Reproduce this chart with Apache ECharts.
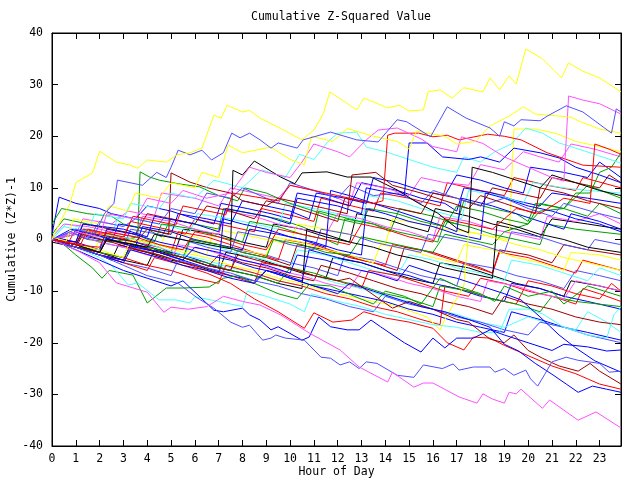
<!DOCTYPE html>
<html>
<head>
<meta charset="utf-8">
<script src="https://cdn.jsdelivr.net/npm/echarts@6/dist/echarts.min.js"></script>
<style>
html,body{margin:0;padding:0;background:#fff;}
#chart{width:640px;height:480px;}
</style>
</head>
<body>
<div id="chart"></div>
<script>
// ---- axis settings ----
const hourMax = 23.9;
const yMin = -40, yMax = 40;

// ---- series values: [hour, cumulative (z*z)-1] ----
const yellowTop = [[0,0],[0.3,3],[0.76,7],[1,11],[1.7,12.9],[2,17.1],[2.7,15],[3.3,14.4],[3.6,13.8],[4,15.4],[4.8,15],[5.25,16.4],[5.8,16.8],[6.3,17.7],[6.8,24.1],[7.1,23.5],[7.35,26],[8,24.7],[8.3,25],[8.74,23.5],[9.6,21.5],[10.5,19.3],[11,21.2],[11.4,24.4],[11.67,28.6],[12.8,25.1],[13.1,27.4],[14.1,25.5],[14.6,26],[15,24.9],[15.6,25.1],[15.8,28.6],[16.3,29],[16.8,27.4],[17.3,29.4],[18.1,28.6],[18.4,31.3],[18.8,29],[19.2,31.7],[19.5,30.1],[19.9,36.9],[20.6,35],[21.4,31.3],[21.7,34.2],[22.3,32.6],[23,31.3],[23.9,28.6]];
const slateTop = [[0,0],[1,2],[1.8,1],[2.2,5],[2.6,7],[2.75,11.5],[3.8,10.5],[4.4,13],[4.8,12],[5,14],[5.3,17.3],[5.8,16.4],[6.3,17.3],[6.7,15.4],[7.2,16.8],[7.55,20.6],[7.9,19.7],[8.3,20.6],[8.74,19.3],[9.2,17.7],[9.5,18.7],[10.3,17.7],[10.55,19.3],[11.7,20.8],[12.8,19.3],[13.7,18.9],[14.5,23.2],[14.9,22.8],[15.9,19.9],[16.6,25.7],[17.4,23.5],[18.4,21.6],[18.8,20],[19,22.8],[19.4,22],[19.7,23.2],[20.5,23],[20.8,23.9],[21.6,25.9],[22.3,24.7],[23.5,20.6],[23.7,25.3],[23.9,24.7]];
const yellow2 = [[0,0.5],[0.6,-0.3],[0.9,4],[2,3],[2.4,6.5],[3.2,5.5],[3.5,9],[4.5,8],[5,11],[6,10],[6.3,13],[7,12],[7.4,18.3],[8,16.8],[9.2,17.9],[10,15.5],[10.6,14.5],[10.9,20],[11.8,19],[12.4,21.5],[13.5,20],[14.5,19],[15,17.5],[15.3,21],[16.5,20],[17,18.5],[17.8,19],[18.4,22],[19.2,23.9],[19.8,25.7],[20.3,24.3],[21.8,23.7],[22.2,22.8],[23,21.4],[23.9,20.6]];
const magentaJump = [[0,0],[1,1.5],[2,0.5],[2.3,5],[3.5,4],[4,8],[5,7],[5.5,9.5],[6.5,8],[7.5,9],[8.3,14],[9,13],[10,12],[10.5,15],[11,18.5],[12,17],[12.5,16],[13.2,19.3],[13.7,21.2],[14.5,21.6],[15.5,19.5],[16,18],[17,17],[17.2,19.9],[18.1,18.6],[19,16],[20,14],[21,12],[21.5,11.3],[21.7,27.8],[22.3,27],[23,26.3],[23.9,24.3]];
const redTop = [[0,0],[1.2,-1],[1.5,2],[3,0.5],[3.4,4.5],[5.2,2.8],[5.5,6.5],[7.3,4.8],[7.6,9],[9.5,7.5],[10,10.5],[12,8.5],[13.5,7],[13.9,7.5],[14.1,20.2],[14.4,20.6],[15.4,20.6],[16,19.9],[16.6,20.2],[17.1,19.3],[18.3,20.4],[19,20],[19.7,19.3],[20.8,16.8],[22.3,14.4],[23.9,14]];
const blackTop = [[0,0],[1,-1],[2,-2.5],[2.3,0],[4,-1.5],[4.3,1],[6,-0.5],[7.5,-1.8],[7.6,13.4],[8,12.5],[8.5,15.2],[9.6,12.1],[10.2,10.8],[10.5,12.9],[11.55,13.1],[12.4,12.1],[13.4,12.1],[14.5,9.6],[15.4,7],[16.2,5.1],[17,2.2],[17.5,1.3],[17.65,14],[18.5,13],[19.5,11.5],[20.5,10],[21,12.5],[22,11],[23,9.5],[23.9,8.5]];
const blueUpper = [[0,0.5],[1,-0.5],[1.3,3],[3,2],[4,0.5],[4.3,4.5],[6,3],[7,1.5],[7.3,6],[9,4.5],[10,3],[10.3,8],[12,6.5],[13,5],[13.2,10],[14.8,8.5],[15,18.7],[15.75,18.7],[16.4,16],[17.5,15.5],[18,16],[18.8,15],[19.4,17.7],[20.5,16.8],[21.3,15.8],[22,14],[23,12.5],[23.9,11]];
const cyanUpper = [[0,0],[0.5,2.5],[1.5,1.5],[1.8,5],[3,4],[3.3,7],[4.5,6],[5,9],[6,8],[6.8,11.5],[8,10],[8.8,13.5],[9.8,12],[10.4,16.5],[11,15.5],[11.6,19],[12,20.6],[12.8,20.8],[13.2,17.9],[14,17],[15,15.5],[16,14],[17,13],[17.3,16],[18,15],[18.6,17],[19.3,18.5],[19.9,21.6],[20.6,20.6],[21.3,18.7],[22,17.7],[23.9,14.8]];
const darkRedUpper = [[0,0],[1,-1],[1.3,1.5],[2.5,0.5],[3.5,-0.5],[4,2],[4.9,1],[5,12.9],[5.8,11.1],[6.55,10],[7.5,9],[8,7.5],[9,6.5],[9.5,8],[10.5,7],[11.5,6],[12.4,5],[12.6,12.5],[13.6,13],[14.3,10.5],[15.5,9],[16.5,7.5],[17.5,6],[18,8.5],[19,7],[20.3,5],[20.5,10],[21.5,9],[22.5,7.5],[23.9,6]];
const slateMid = [[0,0],[0.8,1.5],[1.5,0],[2,3.5],[3,2.5],[3.5,4],[4.5,3],[5,6],[6,5],[6.5,9],[7.5,8],[8,10],[8.5,9],[9.5,7],[10,11],[11,9.5],[12,8],[12.5,10.5],[13.5,8.5],[14.5,9],[15.5,7],[16,9.5],[17,8],[18,6.5],[19,8],[20,6],[21,4.5],[21.5,7],[23,5],[23.9,4]];
const magentaLow = [[0,0],[1,-2],[2,-4.5],[2.7,-8.4],[4,-10.2],[4.7,-14.1],[5,-13.1],[5.7,-13.5],[6.5,-13],[7.2,-11],[8,-12],[8.74,-12.7],[9.6,-14.6],[10.8,-18.1],[12.1,-21.4],[12.9,-24.7],[14.1,-27.6],[14.3,-25.7],[15.2,-28.6],[15.6,-27.8],[16,-27.8],[17.1,-30.5],[17.85,-31.7],[18.1,-29.9],[18.5,-30.9],[19,-31.7],[19.2,-29.6],[19.5,-29.9],[19.7,-29],[20.6,-32.7],[20.9,-31.1],[22.1,-35],[22.85,-33.4],[23.9,-36.5]];
const slateLow = [[0,0],[1,-1.5],[2,-3],[3,-5],[4,-7],[5.3,-8.5],[6.1,-11.3],[6.8,-13.3],[7.5,-16],[8,-17],[8.3,-16.6],[8.85,-19.5],[9.2,-19.1],[9.4,-18.5],[9.8,-19.1],[10.6,-19.5],[11.3,-22.8],[11.7,-23],[12.1,-24.3],[12.5,-23.7],[12.9,-25],[13.2,-23.7],[13.65,-24],[14.5,-26.3],[15.2,-26.7],[15.6,-24.3],[16.4,-25],[16.85,-24.1],[17.1,-25.3],[17.7,-24.7],[18.4,-24.7],[18.6,-25.7],[19,-25],[19.4,-26.3],[19.9,-25.3],[20.1,-27],[20.4,-28.4],[20.7,-26.1],[21,-23.7],[21.6,-22.8],[22.1,-23.4],[23,-24],[23.4,-25.7],[23.9,-25.5]];
const blueLow1 = [[0,0],[1,-2],[2,-4],[3,-6],[4,-7.5],[5,-9],[5.5,-8],[6.8,-13.7],[7.2,-14],[8,-13.3],[8.3,-14.6],[8.74,-15.6],[9.2,-17.5],[9.5,-16.9],[10.5,-19.5],[10.8,-18.9],[11.2,-15],[11.7,-16.9],[12.4,-17.5],[12.9,-17.5],[13.4,-15.6],[13.8,-16.9],[14.8,-20],[15.5,-21.8],[16,-19.1],[16.5,-21],[17,-19.1],[17.7,-19.1],[18.4,-17.5],[19,-18.5],[20,-20],[21,-21.5],[21.5,-20.3],[22.5,-20.8],[23.3,-21.6],[23.9,-21.4]];
const redLow = [[0,0],[1,-1.5],[2,-3],[3,-4.5],[4,-6],[4.3,-3.5],[5.5,-5],[6.5,-6.5],[7.5,-8.5],[8.5,-11.5],[9.5,-14],[10.6,-17.2],[11,-14.2],[11.8,-16],[12.6,-15.6],[13.1,-14],[14,-15.2],[15,-16],[16,-17.2],[16.6,-20],[17.3,-21.4],[17.7,-18.9],[18.4,-19.1],[19,-20.5],[20,-22.5],[21,-24.5],[22,-26],[23,-28],[23.9,-29]];
const darkRedLow = [[0,0],[1,-1.5],[2,-2.5],[2.3,0],[3.5,-1],[4.5,-2.5],[5.5,-3.5],[6.5,-5],[7.5,-6],[7.8,-3],[9,-4.5],[10,-5.5],[11,-7],[12,-8],[12.5,-7.5],[13.4,-10.4],[14.3,-13.3],[15,-12],[16,-13.5],[17,-15.5],[17.5,-16],[18.4,-19.3],[19,-20],[19.4,-18.5],[20,-21.5],[20.6,-23],[21.3,-24.5],[22.1,-25.5],[22.6,-24],[23,-25.5],[23.9,-28]];
const blueLow2 = [[0,0],[1,-1.5],[2,-3],[3,-4.5],[3.3,-2],[4.5,-3.5],[5.5,-5],[6.5,-6],[7.5,-7.5],[8.5,-8.5],[9,-6],[10,-7.5],[11,-9],[12,-10.5],[12.5,-8.5],[13.5,-10],[14.5,-11.5],[15.5,-13],[16.5,-14],[17.5,-15.5],[18.4,-17],[19,-20.3],[19.6,-21.6],[20.3,-24],[21,-26.1],[21.6,-28],[22.1,-29.6],[22.7,-28.4],[23.3,-29],[23.9,-29.6]];
const blueLow3 = [[0,0],[1,-1],[1.3,1.5],[2.5,0],[3.5,-1.5],[4.5,-2.5],[5.5,-4],[6,-1.5],[7,-2.5],[8,-4],[9,-5],[10,-6.5],[10.3,-3],[11.5,-4],[12.5,-5.5],[13.5,-6.5],[14.5,-8],[15,-5],[16,-6.5],[17,-7.5],[18,-9],[19,-10.5],[19.7,-11.7],[20.5,-15],[21.3,-18.5],[22,-21],[22.8,-23.5],[23.9,-25.7]];
const cyanLow = [[0,0],[1,-1.5],[2,-3.5],[2.5,-5],[3.2,-8.8],[3.6,-8.4],[4.5,-11.7],[5.2,-11.7],[5.8,-12.3],[6,-11.1],[7,-12],[8,-13],[8.2,-10],[9,-11],[10,-12.5],[10.6,-14],[10.9,-10.5],[12,-12],[13,-13],[14,-14.5],[15,-15.5],[16,-16.5],[17,-17],[18,-18],[18.8,-18],[19.2,-13.5],[20,-13.5],[20.6,-14.4],[21.5,-17],[22.5,-18.5],[23.3,-19.1],[23.6,-14.6],[23.9,-13]];
const greenLow = [[0,0],[0.5,-1],[1,-3],[1.7,-5.5],[2.1,-7.5],[2.4,-6],[3.4,-6.9],[4,-12.3],[4.8,-9.4],[5.5,-9.4],[6.6,-9.2],[7.2,-7.5],[7.8,-7],[8.5,-8.5],[9.5,-10.5],[10.3,-11.5],[10.8,-8.7],[11.7,-9],[12.7,-11],[13.5,-12.5],[14,-10],[14.8,-11],[15.5,-12.5],[16.3,-7.5],[17,-9],[18,-10.5],[18.6,-12],[19,-9],[20,-11],[21,-10],[21.5,-12.5],[22.5,-9],[23.9,-11]];
const redMid1 = [[0,0],[0.7,-0.5],[1,2],[2.2,1],[3,0],[3.3,3.5],[4.8,2],[5.6,1],[6,4],[7.5,2.5],[8.5,1.5],[8.8,6],[10.2,4.5],[11,3.5],[11.3,8],[12.6,6.5],[13.5,5.5],[13.8,9],[15,8],[16.3,6.5],[16.6,11],[18,9.5],[19,8.5],[19.4,12],[20.8,10.5],[22,9.5],[22.3,12],[23.9,10]];
const blueMid1 = [[0,1],[0.3,8.2],[1,7],[2,6],[2.5,5],[3.5,4],[4,6.5],[5,5.5],[6,4],[6.8,3],[7.1,7],[8.2,6],[9.2,5],[10,4],[10.3,9],[11.5,8],[12.5,6.5],[13,11],[14.5,9.5],[15.5,8],[16.5,7],[17,5.5],[17.3,10],[18.5,9],[19.5,7.5],[20.5,6.5],[21,9],[22.5,8],[23.9,7]];
const greenMid1 = [[0,3],[0.4,6],[1.5,5],[2.5,4.5],[3,3],[4,2],[4.6,0.5],[5,4],[6,3],[7,2],[7.2,6],[8.4,5],[9.5,4],[10.5,2.5],[11,1.5],[11.2,5.5],[12.5,4],[13.5,3],[14.2,1.5],[14.6,6],[16,4.5],[17,3],[17.3,7.5],[18.5,6],[19.5,5],[20,3.5],[20.3,7],[21.5,6],[22.5,4.5],[23,7],[23.9,5]];
const blackMid1 = [[0,-0.5],[1,-1.5],[2,-2],[2.3,1],[3.5,0],[4.5,-1],[5.2,-2],[5.5,2],[7,1],[8,-0.5],[9,-1.5],[9.3,3],[10.5,2],[11.5,0.5],[12.5,-0.5],[12.8,5],[14,4],[15,2.5],[15.8,1.5],[16.1,6],[17.5,4.5],[18.5,3],[19.5,2],[20.5,0.5],[21,4],[22.5,3],[23.9,2]];
const magentaMid1 = [[0,0],[1,1],[1.3,4],[2.5,3],[3.2,5.5],[4.3,4.5],[4.6,9],[6,8],[7,6.5],[7.5,10],[8.5,9],[9.5,8],[10,10.5],[11,9.5],[12,8],[12.5,7],[12.8,11],[14,10],[15,8.5],[15.5,12],[16.5,11],[17.5,10.5],[18,14.5],[19,13.5],[19.8,17],[20.5,16],[21.3,15],[21.8,18.5],[22.8,17.5],[23.9,16]];
const yellowMid1 = [[0,0],[1,-1],[1.8,-2],[2.1,1],[3.5,0],[4.5,-1],[5.5,-2],[6.5,-3],[6.8,2],[8,1],[9,0],[10,-1],[10.3,3],[11.5,2],[12.5,1],[13.5,0],[14,-1],[14.3,4],[15.5,3],[16.5,2],[17.5,1.5],[18.5,0.5],[19.2,0],[19.4,21.4],[20.3,21.4],[21.2,20.5],[22,19],[23,18],[23.9,17]];
const cyanMid1 = [[0,0.5],[0.6,3],[1.5,2],[2.5,1],[2.8,4.5],[4,3.5],[5,2.5],[5.8,1.5],[6.1,5],[7.5,4],[8.5,3],[9.5,2],[9.8,7],[11,6],[12,5],[13,3.5],[13.3,8.5],[14.5,7.5],[15.5,6],[16.5,5],[17.2,4],[17.5,9.5],[18.8,8.5],[19.8,7],[20.2,11],[21.5,10],[22.5,9.5],[23.9,9]];
const darkRedMid1 = [[0,0],[1,-1],[2,-2.5],[2.3,0],[3.5,-1.5],[4.5,-2.5],[5.5,-4],[5.8,0],[7,-1],[8,-2.5],[9,-3.5],[10,-5],[10.3,-1],[11.5,-2],[12.5,-3.5],[13.5,-4.5],[14.5,-6],[14.8,-1.5],[16,-2.5],[17,-4],[18,-5.5],[18.5,-6.5],[18.8,-2],[20,-3],[21,-4.5],[21.5,-1],[22.5,-2],[23.9,-3]];
const slateMid2 = [[0,0],[1,-1.5],[2,-3],[3,-4],[3.3,-1],[4.5,-2],[5.5,-3.5],[6.5,-5],[7.5,-6],[7.8,-2],[9,-3],[10,-4.5],[11,-5.5],[12,-7],[12.3,-3],[13.5,-4],[14.5,-5.5],[15.5,-7],[16.5,-8],[17,-9],[17.3,-4.5],[18.5,-5.5],[19.5,-7],[20.5,-8],[21.5,-9.5],[22,-6],[23,-7],[23.9,-8]];
const redMid2 = [[0,0],[1,-1],[1.3,2],[2.5,1],[3.5,-0.5],[4.5,-1.5],[5,-2.5],[5.3,1.5],[6.5,0.5],[7.5,-1],[8.5,-2.5],[9.5,-4],[9.8,0],[11,-1],[12,-2.5],[13,-4],[14,-5],[14.3,-1],[15.5,-2],[16.5,-3.5],[17.5,-5],[18.5,-6.5],[18.8,-2.5],[20,-3.5],[21,-5],[22,-6.5],[22.3,-4],[23.9,-6]];
const blueMid2 = [[0,0],[1,1.5],[1.5,0.5],[2.5,-0.5],[2.8,3],[4,2],[5,1],[5.3,5],[6.5,4],[7.5,3],[8,7.5],[9,6.5],[10,5.5],[10.8,4],[11.1,9],[12.3,8],[13.2,7],[13.5,12],[14.5,11],[15.5,9.5],[16.5,8.5],[17,12.5],[18,11.5],[19,10],[19.8,9],[20.1,14],[21.5,13],[22.5,12],[23,15],[23.9,12]];
const greenMid2 = [[0,1],[0.5,4],[1.5,3],[2.5,2],[3.5,1],[4.3,-0.5],[4.6,3],[6,2],[7,0.5],[8,-0.5],[8.3,3.5],[9.5,2.5],[10.5,1],[11.5,0],[12,-1],[12.3,4],[13.5,3],[14.5,1.5],[15.5,0.5],[16.2,-0.5],[16.5,3.5],[17.5,2.5],[18.5,1],[19.5,0],[20.5,-1],[20.8,3],[22,2],[23.9,1]];
const blackMid2 = [[0,0],[1,-1.5],[2,-3],[2.5,-4],[2.8,-1],[4,-2.5],[5,-4],[6,-5],[7,-6.5],[7.3,-2.5],[8.5,-3.5],[9.5,-5],[10.5,-6.5],[11.5,-7.5],[11.8,-3.5],[13,-4.5],[14,-6],[15,-7.5],[16,-8.5],[16.3,-4.5],[17.5,-5.5],[18.5,-7],[19.5,-8.5],[20.5,-9.5],[21.5,-11],[21.8,-8],[23,-9],[23.9,-10]];
const magentaMid2 = [[0,0.5],[0.5,3],[1.5,2.5],[2.5,1.5],[3.5,0.5],[3.8,4.5],[5,3.5],[6,2],[7,1],[7.3,5.5],[8.5,4.5],[9.5,3],[10.5,2],[11.5,1],[12,5],[13,4],[14,2.5],[15,1.5],[16,0],[16.3,4.5],[17.5,3.5],[18.5,2],[19.5,1],[20.5,0],[20.8,4.5],[22,3.5],[23,5],[23.9,3]];
const yellowMid2 = [[0,0],[1,-1],[1.5,1.5],[2.5,0.5],[3.5,-1],[4.5,-2],[4.8,1.5],[6,0.5],[7,-1],[8,-2],[9,-3],[9.3,0.5],[10.5,-0.5],[11.5,-2],[12.5,-3],[13.5,-4.5],[13.8,-1],[15,-2],[16,-3.5],[17,-4.5],[17.3,-1],[18.5,-2],[19.5,-3.5],[20.5,-4.5],[21.5,-6],[21.8,-2.5],[23,-3],[23.9,-4]];
const cyanMid2 = [[0,0],[1,-1.5],[1.3,1],[2.5,0],[3.5,-1.5],[4.5,-3],[5.5,-4],[5.8,-0.5],[7,-1.5],[8,-3],[9,-4],[10,-5.5],[10.3,-2],[11.5,-3],[12.5,-4.5],[13.5,-6],[14.5,-7],[15,-3],[16,-4],[17,-5.5],[18,-6.5],[19,-8],[19.3,-4],[20.5,-5],[21.5,-6.5],[22.5,-8],[23,-5.5],[23.9,-7]];
const darkRedMid2 = [[0,0],[1,-0.5],[1.3,3],[2.5,2],[3.5,1],[4,5],[5,4],[6,3],[6.5,6.5],[7.5,5.5],[8.5,4],[9,7.5],[10,6.5],[11,5],[12,3.5],[12.3,8],[13.5,7],[14.5,6],[15.5,5],[16,9],[17,8],[18,6.5],[18.5,10],[19.5,9],[20.5,8],[21,12],[22,11],[23,10],[23.4,12.5],[23.9,11]];
const slateMid3 = [[0,0],[1,1],[2,-0.5],[3,-1.5],[3.3,2],[4.5,1],[5.5,0],[6.5,-1.5],[7.5,-2.5],[7.8,1.5],[9,0.5],[10,-1],[11,-2],[11.3,2],[12.5,1],[13.5,-0.5],[14.5,-1.5],[15.5,-2.5],[15.8,1],[17,0],[18,-1],[19,-2.5],[19.3,1.5],[20.5,0.5],[21.5,-1],[22.5,-2],[22.8,0],[23.9,-1]];
const redMid3 = [[0,0],[1,-1.5],[2,-3],[3,-4],[3.3,-1.5],[4.5,-3],[5.5,-4.5],[6.5,-6],[7.5,-7],[8.5,-8.5],[8.8,-4.5],[10,-5.5],[11,-7],[12,-8],[13,-9.5],[13.3,-6],[14.5,-7],[15.5,-8.5],[16.5,-10],[17.5,-11],[18,-7.5],[19,-8.5],[20,-10],[21,-11],[22,-12.5],[22.3,-9.5],[23,-10.5],[23.9,-12]];
const blueMid3 = [[0,0],[0.8,2],[1.8,1],[2.8,-0.5],[3.5,-1.5],[3.8,2.5],[5,1.5],[6,0],[7,-1],[8,-2],[8.3,2],[9.5,1],[10.5,0],[11.5,-1.5],[11.7,9.5],[12.5,8.5],[13.5,7],[14.5,5.5],[15.5,4],[16.5,2.5],[17,1.5],[17.2,8],[18.5,6.5],[19.5,5],[20.5,3.5],[21.5,2],[21.8,5],[23,3.5],[23.9,2]];
const greenMid3 = [[0,0],[1,1],[1.5,0],[2.5,-0.5],[3.6,0.5],[3.7,13.1],[4.1,12.1],[4.5,11.5],[5.3,10.8],[6.2,10.2],[7,8.5],[7.8,7.5],[8.1,10],[9,9],[10,7],[11,5.5],[12,4],[13,3],[13.3,6],[14.5,5],[15.5,3.5],[16.5,2.5],[17,6.5],[18,5.5],[19,4],[20,3],[20.5,7],[21.5,6],[22.5,10.5],[23.9,8]];
const greenMid4 = [[0,0],[1,-1],[2,-2.5],[2.3,0],[3.5,-1],[4.5,-2],[5.5,-3.5],[5.8,0],[7,-1],[8,-2.5],[9,-3.5],[9.3,0],[10.5,-1],[11.5,-2.5],[12.5,-3],[13,0.5],[14,-0.5],[15,-1.5],[16,-2.5],[16.5,1],[17.5,0],[18.5,-1],[19,1.5],[20,3],[20.5,5.5],[21.5,6],[22,9],[22.6,9],[23,13],[23.5,14],[23.9,16.8]];
const blueDesc1 = [[0,0],[1,-1.5],[2,-3],[3,-4],[3.3,-1],[4.5,-2.5],[5.5,-4],[6.5,-5.5],[7.5,-7],[8.5,-8],[9,-6],[10,-7.5],[11,-9],[12,-10],[13,-11],[14,-12],[15,-13.5],[16,-14.5],[17,-16],[18,-17],[19,-18],[19.3,-14],[20.5,-15.5],[21.5,-17],[22.5,-18],[23.9,-19.5]];
const cyanDesc1 = [[0,0],[1,-1],[2,-2],[2.3,1],[3.5,0],[4.5,-1.5],[5.5,-3],[6.5,-4],[7.5,-5.5],[8.5,-6.5],[9.5,-8],[10.5,-9],[11,-7],[12,-8.5],[13,-9.5],[14,-11],[15,-12],[16,-13.5],[17,-14.5],[18,-16],[19,-17],[20,-15],[21,-16.5],[22,-17.5],[22.5,-14],[23.3,-16],[23.9,-18]];
const darkRedDesc1 = [[0,0],[1,-1.5],[1.3,1],[2.5,-0.5],[3.5,-2],[4.5,-3],[5.5,-4.5],[6.5,-5.5],[7,-3],[8,-4.5],[9,-5.5],[10,-7],[11,-8],[11.3,-5],[12.5,-6.5],[13.5,-8],[14.5,-9.5],[15.5,-10.5],[16.5,-12],[17.5,-13],[18.5,-14.5],[19,-11],[20,-12.5],[21,-13.5],[22,-15],[23,-16],[23.9,-16.5]];
const redDesc1 = [[0,0],[1,-1],[2,-2.5],[3,-3.5],[4,-5],[5,-6],[6,-7.5],[7,-8.5],[7.3,-5],[8.5,-6.5],[9.5,-8],[10.5,-9],[11.5,-10.5],[12.5,-11.5],[13.5,-13],[14.5,-14],[15.5,-15.5],[16.3,-16.5],[16.5,-9],[17.5,-10],[18.5,-11.5],[19.5,-12.5],[20,-8],[21,-9],[22,-10.5],[23,-11.5],[23.5,-8.5],[23.9,-10]];
const blueDesc2 = [[0,0.5],[1,-0.5],[2,-2],[2.3,2],[3.5,1],[4.5,-0.5],[5.5,-1.5],[6.5,-3],[7.5,-4],[8.5,-5.5],[9.5,-6.5],[10.5,-8],[10.8,-2],[12,-3.5],[13,-4.5],[14,-6],[15,-7],[16,-8.5],[17,-9.5],[18,-11],[19,-12],[19.3,-8.5],[20.5,-9.5],[21.5,-11],[22.5,-12],[23.9,-13.5]];
const greenDesc1 = [[0,0],[1,-1],[2,-2.5],[3,-3.5],[3.5,-1],[4.5,-2],[5.5,-3.5],[6.5,-4.5],[7.5,-6],[8.5,-7],[9.5,-8.5],[10,-5.5],[11,-6.5],[12,-8],[13,-9],[14,-10.5],[15,-11.5],[16,-13],[16.3,-9],[17.5,-10],[18.5,-11.5],[19.5,-12.5],[20.5,-14],[21,-11],[22,-12],[23.9,-13]];
const magentaDesc1 = [[0,0],[1,1],[2,-0.5],[3,-1.5],[4,-3],[5,-4],[5.3,-1],[6.5,-2],[7.5,-3.5],[8.5,-4.5],[9.5,-6],[10.5,-7],[11.5,-8.5],[12.5,-9.5],[13,-6],[14,-7],[15,-8.5],[16,-9.5],[17,-11],[18,-12],[18.3,-8],[19.5,-9],[20.5,-10.5],[21.5,-11.5],[22,-8],[23,-9],[23.9,-10]];
const slateDesc1 = [[0,0],[1,-1.5],[2,-3],[3,-4.5],[4,-5.5],[5,-7],[5.3,-4],[6.5,-5.5],[7.5,-6.5],[8.5,-8],[9.5,-9],[10.5,-10.5],[11.5,-11.5],[12.5,-13],[13.5,-14],[14,-11],[15,-12.5],[16,-13.5],[17,-15],[18,-16],[19,-17.5],[20,-18.5],[20.5,-16],[21.5,-17],[22.5,-18.5],[23.9,-20]];
const yellowDesc1 = [[0,0],[1,-1],[2,-2],[3,-3.5],[3.3,0],[4.5,-1],[5.5,-2.5],[6.5,-3.5],[7.5,-5],[8.5,-6],[9.5,-7.5],[10.5,-8.5],[11.5,-10],[12.5,-11],[13.5,-12],[14.3,-12.7],[15.75,-15],[16.3,-17.5],[16.5,-15.5],[17.3,-9],[17.5,1.5],[18.5,0.5],[19.5,-1],[20.5,-2],[21.5,-3.5],[22.5,-4.5],[23.9,-6]];
const redLate = [[0,0],[1,-1],[2,-1.5],[2.3,1.5],[3.5,0.5],[4.5,-1],[5.5,-2],[6,1.5],[7,0.5],[8,-1],[9,-2],[9.5,2],[10.5,1],[11.5,0],[12.5,-1],[13,3],[14,2],[15,0.5],[16,-0.5],[16.5,4],[17.5,3],[18.5,2],[19.5,6],[20.5,5],[21.5,8],[22.6,7],[22.8,18.5],[23.4,17.5],[23.9,16.5]];
const blackMid3 = [[0,0],[1,-1.5],[2,-2.5],[3,-4],[4,-5],[4.3,-2],[5.5,-3.5],[6.5,-5],[7.5,-6],[8.5,-7],[9.5,-8.5],[10.5,-9.5],[10.7,2],[11.5,1],[12.5,-0.5],[13.5,-1.5],[14.5,-3],[15.5,-4],[16.5,-5.5],[17.5,-6.5],[18.5,-7.5],[18.7,3.5],[19.5,2.5],[20.5,1],[21.5,0],[22.5,-1.5],[23.9,-2.5]];
const blueMid4 = [[0,0],[1,-1],[2,-2.5],[2.3,0.5],[3.5,-0.5],[4.5,-2],[5.5,-3],[6.5,-4.5],[7,-5.5],[7.2,4],[8,3],[9,2],[10,0.5],[11,-0.5],[12,-2],[13,-3],[13.2,6],[14,5],[15,3.5],[16,2.5],[17,1],[18,0],[18.2,9],[19,8],[20,6.5],[21,5.5],[22,4],[23,3],[23.9,1.5]];

// ---- tick labels / texts ----
const titleText = 'Cumulative Z-Squared Value';
const xAxisTitle = 'Hour of Day';
const yAxisTitle = 'Cumulative (Z*Z)-1';

// ---- colours (style, kept apart from data) ----
const C = {
  red:'#ff0000', blue:'#0000ff', green:'#00a000', black:'#000000', magenta:'#ff50ff',
  yellow:'#ffff00', cyan:'#50ffff', darkred:'#a00000', slate:'#5050ff'
};

const lines = [
  [redMid1,C.red],[blueMid1,C.blue],[greenMid1,C.green],[blackMid1,C.black],[magentaMid1,C.magenta],
  [yellowMid1,C.yellow],[cyanMid1,C.cyan],[darkRedMid1,C.darkred],[slateMid2,C.slate],
  [redMid2,C.red],[blueMid2,C.blue],[greenMid2,C.green],[blackMid2,C.black],[magentaMid2,C.magenta],
  [yellowMid2,C.yellow],[cyanMid2,C.cyan],[darkRedMid2,C.darkred],[slateMid3,C.slate],
  [redMid3,C.red],[blueMid3,C.blue],[greenMid3,C.green],[greenMid4,C.green],[blackMid3,C.black],[blueMid4,C.blue],
  [blueDesc1,C.blue],[cyanDesc1,C.cyan],[darkRedDesc1,C.darkred],[redDesc1,C.red],[blueDesc2,C.blue],
  [greenDesc1,C.green],[magentaDesc1,C.magenta],[slateDesc1,C.slate],[yellowDesc1,C.yellow],
  [greenLow,C.green],[cyanLow,C.cyan],[redLow,C.red],[darkRedLow,C.darkred],[blueLow1,C.blue],
  [blueLow2,C.blue],[blueLow3,C.blue],[slateLow,C.slate],[magentaLow,C.magenta],
  [slateMid,C.slate],[darkRedUpper,C.darkred],[cyanUpper,C.cyan],[blueUpper,C.blue],[blackTop,C.black],
  [redTop,C.red],[redLate,C.red],[magentaJump,C.magenta],[yellow2,C.yellow],[slateTop,C.slate],[yellowTop,C.yellow]
];

const FONT = 'DejaVu Sans Mono';
const chart = echarts.init(document.getElementById('chart'), null, {renderer:'canvas'});

const xCommon = {
  type:'value', min:0, max:hourMax, interval:1,
  axisLine:{show:true, onZero:false, lineStyle:{color:'#000', width:1}},
  axisTick:{show:true, inside:true, length:6, lineStyle:{color:'#000'}},
  splitLine:{show:false}
};
const yCommon = {
  type:'value', min:yMin, max:yMax, interval:10,
  axisLine:{show:true, onZero:false, lineStyle:{color:'#000', width:1}},
  axisTick:{show:true, inside:true, length:6, lineStyle:{color:'#000'}},
  splitLine:{show:false}
};

chart.setOption({
  animation:false,
  backgroundColor:'#fff',
  title:{
    text:titleText, left:336, top:6, textAlign:'center',
    textStyle:{fontFamily:FONT, fontSize:11.5, fontWeight:'normal', color:'#000'}
  },
  grid:{left:52, right:19, top:33, bottom:34, containLabel:false, outerBoundsMode:'none',
        show:true, borderColor:'#000', borderWidth:1, backgroundColor:'transparent'},
  xAxis:[
    Object.assign({}, xCommon, {
      position:'bottom', name:xAxisTitle, nameLocation:'middle', nameGap:20, nameMoveOverlap:false,
      nameTextStyle:{fontFamily:FONT, fontSize:11.5, color:'#000'},
      axisLabel:{show:true, margin:7, color:'#000', fontFamily:FONT, fontSize:11.5,
        formatter:v => (Math.abs(v-Math.round(v))<1e-9 ? String(Math.round(v)) : '')}
    }),
    Object.assign({}, xCommon, {position:'top', axisLabel:{show:false}})
  ],
  yAxis:[
    Object.assign({}, yCommon, {
      position:'left', name:yAxisTitle, nameLocation:'middle', nameGap:34, nameRotate:90, nameMoveOverlap:false,
      nameTextStyle:{fontFamily:FONT, fontSize:11.5, color:'#000'},
      axisLabel:{show:true, margin:9, color:'#000', fontFamily:FONT, fontSize:11.5}
    }),
    Object.assign({}, yCommon, {position:'right', axisLabel:{show:false}})
  ],
  series: lines.map((l, i) => ({
    type:'line', name:'s'+i, xAxisIndex:0, yAxisIndex:0,
    data:l[0], showSymbol:false, symbol:'none', smooth:false,
    lineStyle:{color:l[1], width:1}, itemStyle:{color:l[1]},
    emphasis:{disabled:true}, silent:true, clip:true
  }))
});
</script>
</body>
</html>
